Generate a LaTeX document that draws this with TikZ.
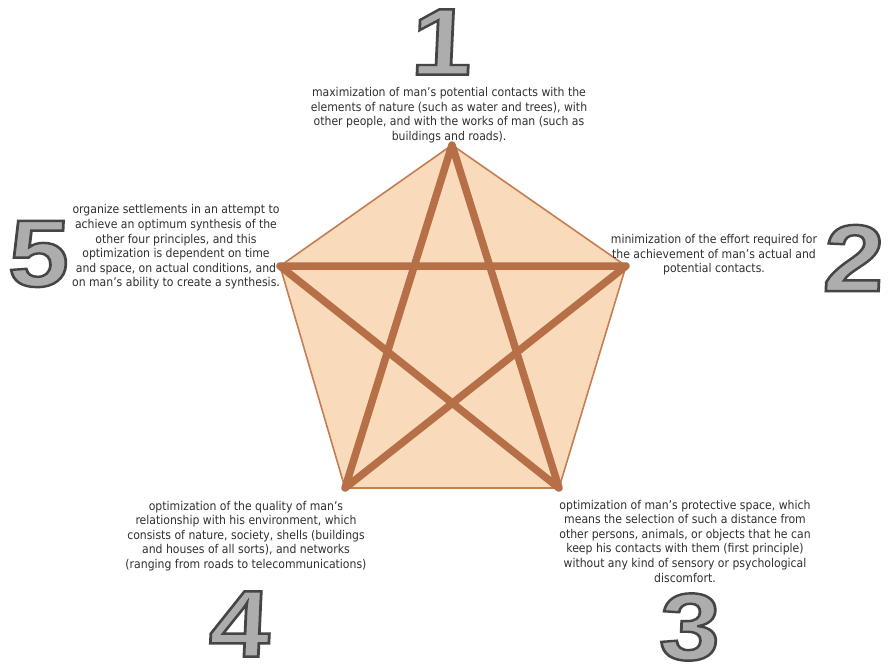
\documentclass[tikz,border=0pt]{standalone}
\usepackage{fontspec}
\setmainfont{DejaVu Sans Condensed}
\newfontfamily\numfont{Liberation Sans}
\definecolor{peach}{HTML}{F9DBBB}
\definecolor{edgebrown}{HTML}{C47E52}
\definecolor{starbrown}{HTML}{B76F48}
\definecolor{txtgray}{HTML}{303030}
\definecolor{numgray}{HTML}{ADADAD}
\newcommand{\outlined}[1]{\special{pdf:literal direct 2 Tr 2.4 w 0.27 G}#1\special{pdf:literal direct 0 Tr}}
\begin{document}
\begin{tikzpicture}[x=1pt,y=-1pt,
  desc/.style={align=center,text=txtgray,font=\fontsize{12.1}{14.6}\selectfont,inner sep=0pt},
  bignum/.style={text=numgray,font=\numfont\bfseries\fontsize{95}{95}\selectfont,inner sep=0pt,xscale=1.15,xslant=0.04,transform shape}]
\useasboundingbox[fill=white] (0,0) rectangle (893,669);
\coordinate (p1) at (452,145);
\coordinate (p2) at (626,266);
\coordinate (p3) at (559,488);
\coordinate (p4) at (345,488);
\coordinate (p5) at (280,266);
\filldraw[fill=peach,draw=edgebrown,line width=1.6pt,line join=miter] (p1) -- (p2) -- (p3) -- (p4) -- (p5) -- cycle;
\draw[starbrown,line width=7.5pt,line join=round,line cap=round] (p1) -- (p3) -- (p5) -- (p2) -- (p4) -- cycle;
\node[desc] (t1) at (449,115) {maximization of man's potential contacts with the\\elements of nature (such as water and trees), with\\other people, and with the works of man (such as\\buildings and roads).};
\node[desc] (t2) at (714,255) {minimization of the effort required for\\the achievement of man's actual and\\potential contacts.};
\node[desc] (t3) at (685,541) {optimization of man's protective space, which\\means the selection of such a distance from\\other persons, animals, or objects that he can\\keep his contacts with them (first principle)\\without any kind of sensory or psychological\\discomfort.};
\node[desc] (t4) at (246,536) {optimization of the quality of man's\\relationship with his environment, which\\consists of nature, society, shells (buildings\\and houses of all sorts), and networks\\(ranging from roads to telecommunications)};
\node[desc] (t5) at (176,247) {organize settlements in an attempt to\\achieve an optimum synthesis of the\\other four principles, and this\\optimization is dependent on time\\and space, on actual conditions, and\\on man's ability to create a synthesis.};
\node[bignum] (n1) at (442,42) {\outlined{1}};
\node[bignum] (n2) at (854,258) {\outlined{2}};
\node[bignum] (n3) at (690,627) {\outlined{3}};
\node[bignum] (n4) at (240,624) {\outlined{4}};
\node[bignum] (n5) at (39,254) {\outlined{5}};
\end{tikzpicture}
\end{document}
